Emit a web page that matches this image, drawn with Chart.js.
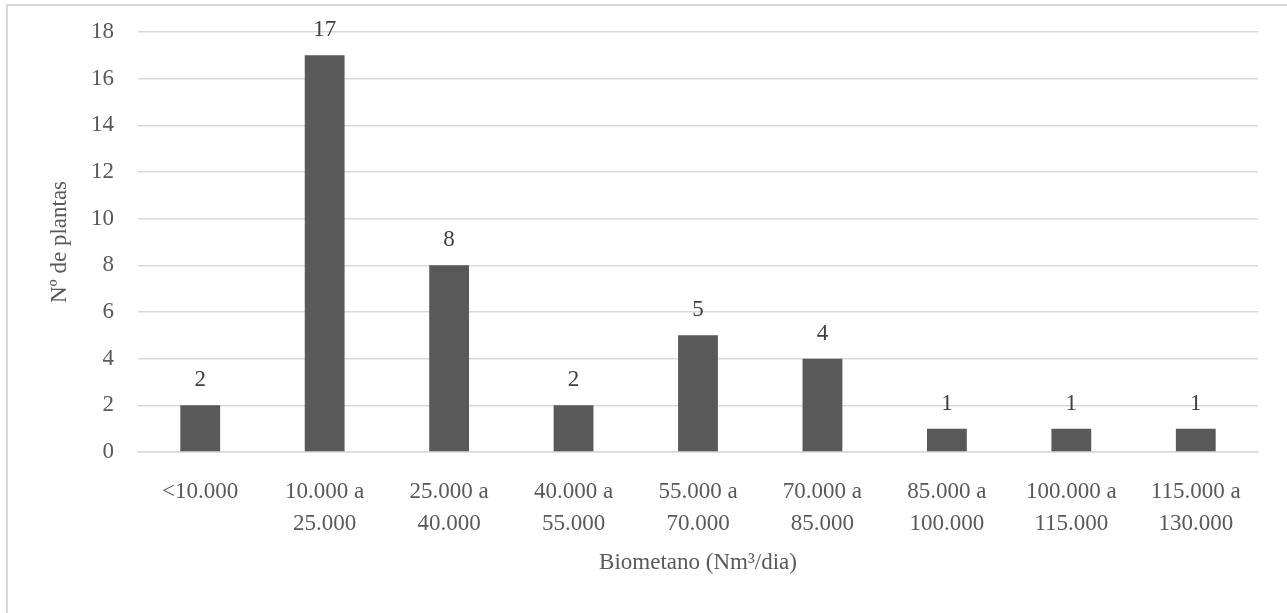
<!DOCTYPE html>
<html>
<head>
<meta charset="utf-8">
<script src="https://cdn.jsdelivr.net/npm/chart.js@4/dist/chart.umd.min.js"></script>
<style>
  html, body { margin: 0; padding: 0; background: #fff; }
  #wrap { position: relative; width: 1287px; height: 613px; }
  #frame { position: absolute; left: 6px; top: 4px; width: 1290px; height: 620px; border: 2px solid #d9d9d9; box-sizing: border-box; }
  canvas { position: absolute; left: 0; top: 0; }
</style>
</head>
<body>
<div id="wrap">
  <div id="frame"></div>
  <canvas id="biometanoChart" width="1287" height="613"></canvas>
</div>
<script>
const categories = [
  ['<10.000'],
  ['10.000 a', '25.000'],
  ['25.000 a', '40.000'],
  ['40.000 a', '55.000'],
  ['55.000 a', '70.000'],
  ['70.000 a', '85.000'],
  ['85.000 a', '100.000'],
  ['100.000 a', '115.000'],
  ['115.000 a', '130.000']
];
const plantCounts = [2, 17, 8, 2, 5, 4, 1, 1, 1];
const yTicks = [0, 2, 4, 6, 8, 10, 12, 14, 16, 18];

const textColor = '#595959';
const serif = "'Liberation Serif', 'Times New Roman', serif";

// numbers above each bar
const barLabels = {
  id: 'barLabels',
  afterDatasetsDraw(chart) {
    const ctx = chart.ctx;
    const meta = chart.getDatasetMeta(0);
    ctx.save();
    ctx.font = '23px ' + serif;
    ctx.fillStyle = '#404040';
    ctx.textAlign = 'center';
    ctx.textBaseline = 'alphabetic';
    meta.data.forEach((bar, i) => {
      ctx.fillText(String(plantCounts[i]), bar.x, bar.y - 19);
    });
    ctx.restore();
  }
};

const ctx = document.getElementById('biometanoChart');
Chart.defaults.font.family = serif;
Chart.defaults.color = textColor;

new Chart(ctx, {
  type: 'bar',
  data: {
    labels: categories,
    datasets: [{
      data: plantCounts,
      backgroundColor: '#595959',
      borderWidth: 0,
      barPercentage: 0.32,
      categoryPercentage: 1
    }]
  },
  options: {
    responsive: false,
    animation: false,
    layout: { padding: { top: 32, right: 29, left: 0, bottom: 0 } },
    plugins: {
      legend: { display: false },
      tooltip: { enabled: false }
    },
    scales: {
      y: {
        min: 0,
        max: 18,
        afterBuildTicks(axis) { axis.ticks = yTicks.map(v => ({ value: v })); },
        afterFit(axis) {
          axis.width = 138;
          axis.paddingTop = 0;
          axis.paddingBottom = 0;
        },
        border: { display: false },
        grid: { color: '#d9d9d9', lineWidth: 1.5, drawTicks: false },
        ticks: { font: { size: 23 }, color: textColor, padding: 24 },
        title: {
          display: true,
          text: 'Nº de plantas',
          font: { size: 23 },
          color: textColor,
          padding: { top: 46, bottom: 0 }
        }
      },
      x: {
        afterFit(axis) { axis.height = 161; },
        border: { display: true, color: '#d9d9d9', width: 1.5 },
        grid: { display: false },
        ticks: { font: { size: 23, lineHeight: 1.4 }, color: textColor, padding: 16, maxRotation: 0, autoSkip: false },
        title: {
          display: true,
          text: 'Biometano (Nm³/dia)',
          font: { size: 23 },
          color: textColor,
          padding: { top: 0, bottom: 36 }
        }
      }
    }
  },
  plugins: [barLabels]
});
</script>
</body>
</html>
